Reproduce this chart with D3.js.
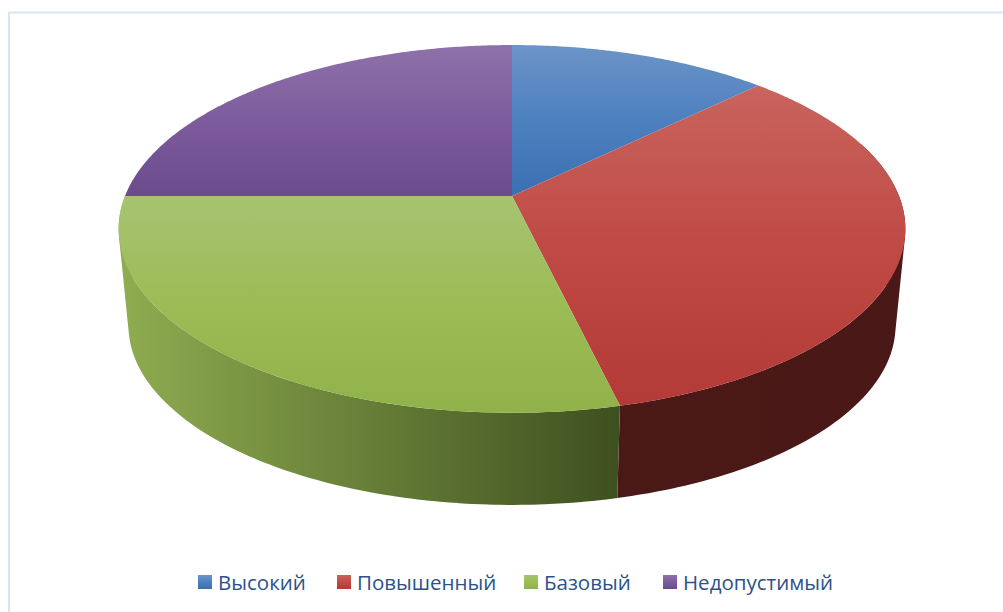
<!DOCTYPE html>
<html>
<head>
<meta charset="utf-8">
<script src="https://cdnjs.cloudflare.com/ajax/libs/d3/7.8.5/d3.min.js"></script>
<style>
  html, body { margin: 0; padding: 0; background: #fff; }
  svg { display: block; }
</style>
</head>
<body>
<svg id="chart" width="1003" height="612"></svg>
<script>
// Chart data, shares in percent
var categories = ["Высокий", "Повышенный", "Базовый", "Недопустимый"];
var values = [12.7, 33.6, 28.7, 25];

// top -> bottom of the lit top face
var topLight = ["#6c94c8", "#c9645e", "#a7c372", "#8e72a9"];
var topMid = ["#4d80bf", "#c04a45", "#9cbc55", "#7d5b9d"];
var topDark = ["#3a70b2", "#b33a36", "#91b24a", "#6c4b8d"];
// wall colours, left -> right across the pie
var wallLeft = ["#3a70b2", "#4c1917", "#8fad50", "#6c4b8d"];
var wallRight = ["#3a70b2", "#4a1816", "#3e4f1f", "#6c4b8d"];

var svg = d3.select('#chart');
var defs = svg.append('defs');

// Perspective of the tilted disc
var cx = 512, cy = 196;
var radX = 387, radY = 178, tilt = 0.179;
var depth = 97.5, shrink = 0.975;

function project(a, lower) {
  var u = Math.sin(a), v = Math.cos(a);
  var w = 1 + tilt * v;
  var s = lower ? shrink : 1;
  return [cx + s * radX * u / w, cy - s * radY * v / w + (lower ? depth : 0)];
}

function arcPoints(a0, a1, lower) {
  var n = Math.max(2, Math.ceil((a1 - a0) / 0.01));
  return d3.range(n + 1).map(function(i) {
    return project(a0 + (a1 - a0) * i / n, lower);
  });
}

var pie = d3.pie().sort(null).value(function(d) { return d; });
var slices = pie(values);
var line = d3.line();

// Frame of the chart area
svg.append('path')
    .attr('d', 'M1003,12.5H9V612')
    .attr('fill', 'none')
    .attr('stroke', '#d9e5f5')
    .attr('stroke-width', 2);

// Gradients
slices.forEach(function(d, i) {
  var g = defs.append('linearGradient')
      .attr('id', 'top' + i)
      .attr('x1', 0).attr('y1', 0).attr('x2', 0).attr('y2', 1);
  g.append('stop').attr('offset', 0).attr('stop-color', topLight[i]);
  g.append('stop').attr('offset', 0.5).attr('stop-color', topMid[i]);
  g.append('stop').attr('offset', 1).attr('stop-color', topDark[i]);

  var w = defs.append('linearGradient')
      .attr('id', 'wall' + i)
      .attr('gradientUnits', 'userSpaceOnUse')
      .attr('x1', 118).attr('y1', 0).attr('x2', i == 2 ? 622 : 905).attr('y2', 0);
  w.append('stop').attr('offset', 0).attr('stop-color', wallLeft[i]);
  w.append('stop').attr('offset', 1).attr('stop-color', wallRight[i]);
});

// Side wall, only the front half of the disc shows it.
// Quads overlap, so keep them all wound the same way or they cancel out.
function wallPath(a0, a1) {
  var step = 0.01, d = '';
  for (var a = a0; a < a1; a += step) {
    var b = Math.min(a + step * 2, a1);
    var quad = [project(a, false), project(b, false), project(b, true), project(a, true)];
    if (d3.polygonArea(quad) < 0) quad.reverse();
    d += line(quad) + 'Z';
  }
  return d;
}

var walls = svg.append('g');
slices.forEach(function(d, i) {
  var a0 = Math.max(d.startAngle, Math.PI * 0.4);
  var a1 = Math.min(d.endAngle, Math.PI * 1.5);
  if (a1 <= a0) return;
  walls.append('path')
      .attr('d', wallPath(a0, a1))
      .attr('fill', 'url(#wall' + i + ')');
});

// Top face
svg.append('g').selectAll('path')
    .data(slices)
    .enter()
    .append('path')
    .attr('d', function(d) {
      return line([[cx, cy]].concat(arcPoints(d.startAngle, d.endAngle, false))) + 'Z';
    })
    .attr('fill', function(d, i) { return 'url(#top' + i + ')'; });

// Legend
var legendX = [198, 337, 524, 663];
var legend = svg.append('g').selectAll('g')
    .data(categories)
    .enter()
    .append('g')
    .attr('transform', function(d, i) { return 'translate(' + legendX[i] + ',575)'; });

legend.append('rect')
    .attr('width', 14)
    .attr('height', 14)
    .attr('fill', function(d, i) { return 'url(#top' + i + ')'; });

legend.append('text')
    .attr('x', 20)
    .attr('y', 15)
    .attr('font-family', "'Open Sans'")
    .attr('font-size', 20.5)
    .attr('fill', '#2c5288')
    .text(function(d) { return d; });
</script>
</body>
</html>
